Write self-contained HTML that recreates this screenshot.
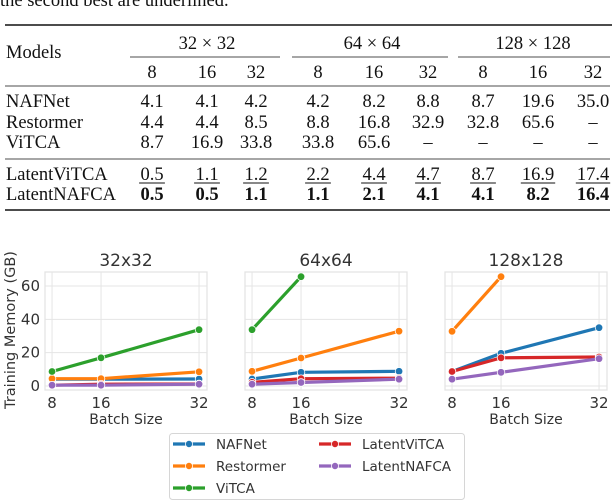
<!DOCTYPE html>
<html><head><meta charset="utf-8"><style>
html,body{margin:0;padding:0;background:#fff;}
svg{display:block;}
.t{font-family:"Liberation Serif",serif;font-size:18.5px;fill:#111;}
.c{font-family:"DejaVu Sans",sans-serif;fill:#333;}
</style></head><body>
<svg id="root" width="612" height="502" viewBox="0 0 612 502" xmlns="http://www.w3.org/2000/svg">
<g>
<text class="t" x="0" y="6">the second best are underlined.</text>
<line x1="5" x2="612" y1="25" y2="25" stroke="#111" stroke-width="1.6"/>
<text class="t" x="6" y="58">Models</text>
<text class="t" x="207" y="49" text-anchor="middle">32 × 32</text>
<text class="t" x="372" y="49" text-anchor="middle">64 × 64</text>
<text class="t" x="533" y="49" text-anchor="middle">128 × 128</text>
<line x1="130" x2="280" y1="57" y2="57" stroke="#111" stroke-width="0.8"/>
<line x1="292" x2="448" y1="57" y2="57" stroke="#111" stroke-width="0.8"/>
<line x1="458" x2="610" y1="57" y2="57" stroke="#111" stroke-width="0.8"/>
<g id="tbody"></g>
<line x1="5" x2="610" y1="86" y2="86" stroke="#111" stroke-width="0.8"/>
<line x1="5" x2="610" y1="159" y2="159" stroke="#111" stroke-width="0.8"/>
<line x1="5" x2="610" y1="210" y2="210" stroke="#111" stroke-width="1.6"/>
</g>
<g id="charts"></g>
</svg>
<script>
const models = ["NAFNet","Restormer","ViTCA","LatentViTCA","LatentNAFCA"];
const colors = ["#1f77b4","#ff7f0e","#2ca02c","#d62728","#9467bd"];
const resolutions = ["32x32","64x64","128x128"];
const batchSizes = [8,16,32];
const yTicks = [0,20,40,60];
const nafnet = [[4.1,4.1,4.2],[4.2,8.2,8.8],[8.7,19.6,35.0]];
const restormer = [[4.4,4.4,8.5],[8.8,16.8,32.9],[32.8,65.6,null]];
const vitca = [[8.7,16.9,33.8],[33.8,65.6,null],[null,null,null]];
const latentVitca = [[0.5,1.1,1.2],[2.2,4.4,4.7],[8.7,16.9,17.4]];
const latentNafca = [[0.5,0.5,1.1],[1.1,2.1,4.1],[4.1,8.2,16.4]];
const series = [nafnet,restormer,vitca,latentVitca,latentNafca];

const NS="http://www.w3.org/2000/svg";
function mk(tag,attrs,parent,text){const e=document.createElementNS(NS,tag);for(const k in attrs)e.setAttribute(k,attrs[k]);if(text!==undefined)e.textContent=text;parent.appendChild(e);return e;}

// table
const tb=document.getElementById('tbody');
const colX=[152,207,256,318,374,428,483,538,593];
const rowY=[107,128,148,180,200];
for(let i=0;i<9;i++){const t=mk('text',{class:'t',x:colX[i],y:78,'text-anchor':'middle'},tb,String(batchSizes[i%3]));

}
models.forEach((m,r)=>{
 const l=mk('text',{class:'t',x:6,y:rowY[r]},tb,m);
 
 
 for(let g=0;g<3;g++)for(let b=0;b<3;b++){
  const v=series[r][g][b];const s=v===null?'–':v.toFixed(1);
  const t=mk('text',{class:'t',x:colX[g*3+b],y:rowY[r],'text-anchor':'middle'},tb,s);
  if(r===4)t.setAttribute('font-weight','bold');
  
  
  if(r===3){const w=s.length*8.6;mk('line',{x1:colX[g*3+b]-w/2,x2:colX[g*3+b]+w/2,y1:183,y2:183,stroke:'#111','stroke-width':0.9},tb);}
 }
});

// charts
const ch=document.getElementById('charts');
const panelL=[45,245,445],pw=162,plotTop=272,plotBot=390;
const xmin=6.85,xmax=33.3,ymin=-2.4,ymax=68.4;
resolutions.forEach((res,p)=>{
 const L=panelL[p];
 const xs=v=>L+(v-xmin)/(xmax-xmin)*pw;
 const ys=v=>plotBot-(v-ymin)/(ymax-ymin)*(plotBot-plotTop);
 const g=mk('g',{},ch);
 
 
 mk('rect',{x:L,y:plotTop,width:pw,height:plotBot-plotTop,fill:'#fff',stroke:'#e2e2e2','stroke-width':1.2},g);
 yTicks.forEach(v=>{mk('line',{x1:L,x2:L+pw,y1:ys(v),y2:ys(v),stroke:'#e5e5e5','stroke-width':1},g);
  if(p===0){const t=mk('text',{class:'c',x:L-5,y:ys(v)+5,'text-anchor':'end','font-size':15},g,String(v));
  
  }});
 batchSizes.forEach(v=>{mk('line',{x1:xs(v),x2:xs(v),y1:plotTop,y2:plotBot,stroke:'#e5e5e5','stroke-width':1},g);
  const t=mk('text',{class:'c',x:xs(v),y:408,'text-anchor':'middle','font-size':15},g,String(v));
  
  });
 const tt=mk('text',{class:'c',x:L+pw/2,y:266,'text-anchor':'middle','font-size':17},g,res);
 
 
 const xl=mk('text',{class:'c',x:L+pw/2,y:424,'text-anchor':'middle','font-size':14},g,'Batch Size');
 
 
 series.forEach((s,si)=>{
  const vals=s[p];const pts=[];
  vals.forEach((v,i)=>{if(v!==null)pts.push([xs(batchSizes[i]),ys(v)]);});
  if(pts.length>1){const ln=mk('polyline',{points:pts.map(q=>q.join(',')).join(' '),fill:'none',stroke:colors[si],'stroke-width':3.2,'stroke-linecap':'round'},g);
   
   }
  pts.forEach(q=>{const c=mk('circle',{cx:q[0],cy:q[1],r:3.8,fill:colors[si],stroke:'#fff','stroke-width':0.8},g);
   
   });
 });
});
const yl=mk('text',{class:'c',x:0,y:0,'text-anchor':'middle','font-size':14.5,transform:'translate(15,330) rotate(-90)'},ch,'Training Memory (GB)');



// legend
const lg=mk('g',{},ch);


mk('rect',{x:169.5,y:433.5,width:295,height:66,rx:3,fill:'#fff',stroke:'#d6d6d6'},lg);
const lpos=[[173,444],[173,466],[173,488],[319,444],[319,466]];
models.forEach((m,i)=>{
 const [x,y]=lpos[i];
 const e=mk('g',{},lg);
 
 
 mk('line',{x1:x,x2:x+32,y1:y,y2:y,stroke:colors[i],'stroke-width':3.2},e);
 mk('circle',{cx:x+16,cy:y,r:3.6,fill:colors[i],stroke:'#fff','stroke-width':0.8},e);
 mk('text',{class:'c',x:x+43,y:y+5,'font-size':13.5},e,m);
});
</script>
</body></html>
